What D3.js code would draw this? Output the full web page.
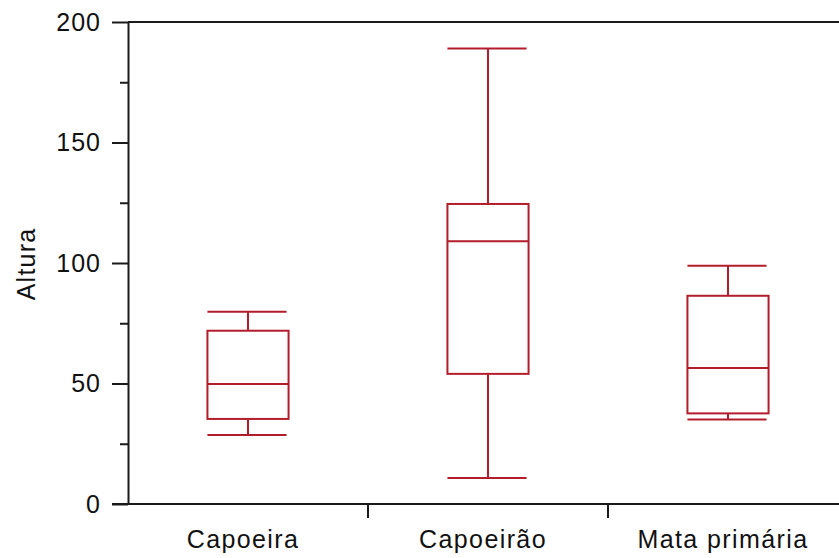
<!DOCTYPE html>
<html>
<head>
<meta charset="utf-8">
<script src="https://cdn.jsdelivr.net/npm/d3@7"></script>
<style>
  html, body { margin: 0; padding: 0; background: #fff; }
  svg { display: block; }
  text { font-family: "Liberation Sans", Arial, sans-serif; fill: #111; }
</style>
</head>
<body>
<svg id="chart" width="839" height="558"></svg>
<script>
// ---- data ----
const categories = ["Capoeira", "Capoeirão", "Mata primária"];
const whiskerLow  = [28.6, 10.8, 35.1];
const q1          = [35.3, 54.0, 37.6];
const median      = [49.8, 109.0, 56.4];
const q3          = [71.9, 124.5, 86.4];
const whiskerHigh = [79.8, 189.0, 98.9];
const yTickValues = [0, 50, 100, 150, 200];
const yMinorTickValues = [25, 75, 125, 175];
const yLabel = "Altura";

(function () {
// ---- layout ----
const svg = d3.select("#chart");
const mLeft = 128, mRight = 848, mTop = 22, mBottom = 504;
const boxColor = "#b31d2b";
const axisColor = "#1a1a1a";

const x = d3.scaleBand().domain(categories).range([mLeft, mRight]).paddingInner(0).paddingOuter(0);
const y = d3.scaleLinear().domain([0, 200]).range([mBottom, mTop]);

// frame top line
svg.append("line")
  .attr("x1", mLeft).attr("x2", mRight).attr("y1", y(200)).attr("y2", y(200))
  .attr("stroke", axisColor).attr("stroke-width", 2);

// y axis major
const yAxis = svg.append("g").attr("transform", `translate(${mLeft},0)`)
  .call(d3.axisLeft(y).tickValues(yTickValues).tickSize(16).tickPadding(11).tickSizeOuter(0));
yAxis.select(".domain").attr("stroke", axisColor).attr("stroke-width", 2);
yAxis.selectAll(".tick line").attr("stroke", axisColor).attr("stroke-width", 2);
yAxis.selectAll(".tick text")
  .style("font-family", '"Liberation Sans", Arial, sans-serif')
  .style("font-size", "25px").style("letter-spacing", "1px").attr("fill", "#111");

// y axis minor
const yMinor = svg.append("g").attr("transform", `translate(${mLeft},0)`)
  .call(d3.axisLeft(y).tickValues(yMinorTickValues).tickSize(8).tickFormat("").tickSizeOuter(0));
yMinor.select(".domain").remove();
yMinor.selectAll(".tick line").attr("stroke", axisColor).attr("stroke-width", 2);

// x axis
const xAxisLine = svg.append("g");
xAxisLine.append("line")
  .attr("x1", mLeft - 16).attr("x2", mRight).attr("y1", mBottom).attr("y2", mBottom)
  .attr("stroke", axisColor).attr("stroke-width", 2);
const boundaries = categories.slice(1).map(c => x(c)).concat([x(categories[categories.length - 1]) + x.bandwidth()]);
xAxisLine.selectAll("line.sep").data(boundaries).enter().append("line")
  .attr("class", "sep")
  .attr("x1", d => d).attr("x2", d => d)
  .attr("y1", mBottom).attr("y2", mBottom + 14)
  .attr("stroke", axisColor).attr("stroke-width", 2);
svg.selectAll("text.xlab").data(categories).enter().append("text")
  .attr("class", "xlab")
  .attr("x", d => x(d) + x.bandwidth() / 2 - 5)
  .attr("y", 548)
  .attr("text-anchor", "middle")
  .style("font-size", "25px").style("letter-spacing", "1.4px")
  .text(d => d);

// y label
svg.append("text")
  .attr("transform", `translate(35,264) rotate(-90)`)
  .attr("text-anchor", "middle")
  .style("font-size", "25px").style("letter-spacing", "1.2px")
  .text(yLabel);

// boxes
const boxW = x.bandwidth() * 0.338;
const capW = boxW - 2;
const data = categories.map((c, i) => ({
  cat: c, lo: whiskerLow[i], q1: q1[i], med: median[i], q3: q3[i], hi: whiskerHigh[i]
}));
const g = svg.append("g").attr("stroke", boxColor).attr("stroke-width", 2).attr("fill", "none");
const bx = g.selectAll("g.box").data(data).enter().append("g").attr("class", "box");
const cx = d => x(d.cat) + x.bandwidth() / 2;

bx.append("line").attr("x1", cx).attr("x2", cx).attr("y1", d => y(d.hi)).attr("y2", d => y(d.q3));
bx.append("line").attr("x1", cx).attr("x2", cx).attr("y1", d => y(d.q1)).attr("y2", d => y(d.lo));
bx.append("rect")
  .attr("x", d => cx(d) - boxW / 2).attr("width", boxW)
  .attr("y", d => y(d.q3)).attr("height", d => y(d.q1) - y(d.q3));
bx.append("line").attr("x1", d => cx(d) - boxW / 2).attr("x2", d => cx(d) + boxW / 2)
  .attr("y1", d => y(d.med)).attr("y2", d => y(d.med));
bx.append("line").attr("x1", d => cx(d) - capW / 2 - 1).attr("x2", d => cx(d) + capW / 2 - 1)
  .attr("y1", d => y(d.hi)).attr("y2", d => y(d.hi));
bx.append("line").attr("x1", d => cx(d) - capW / 2 - 1).attr("x2", d => cx(d) + capW / 2 - 1)
  .attr("y1", d => y(d.lo)).attr("y2", d => y(d.lo));
})();
</script>
</body>
</html>
